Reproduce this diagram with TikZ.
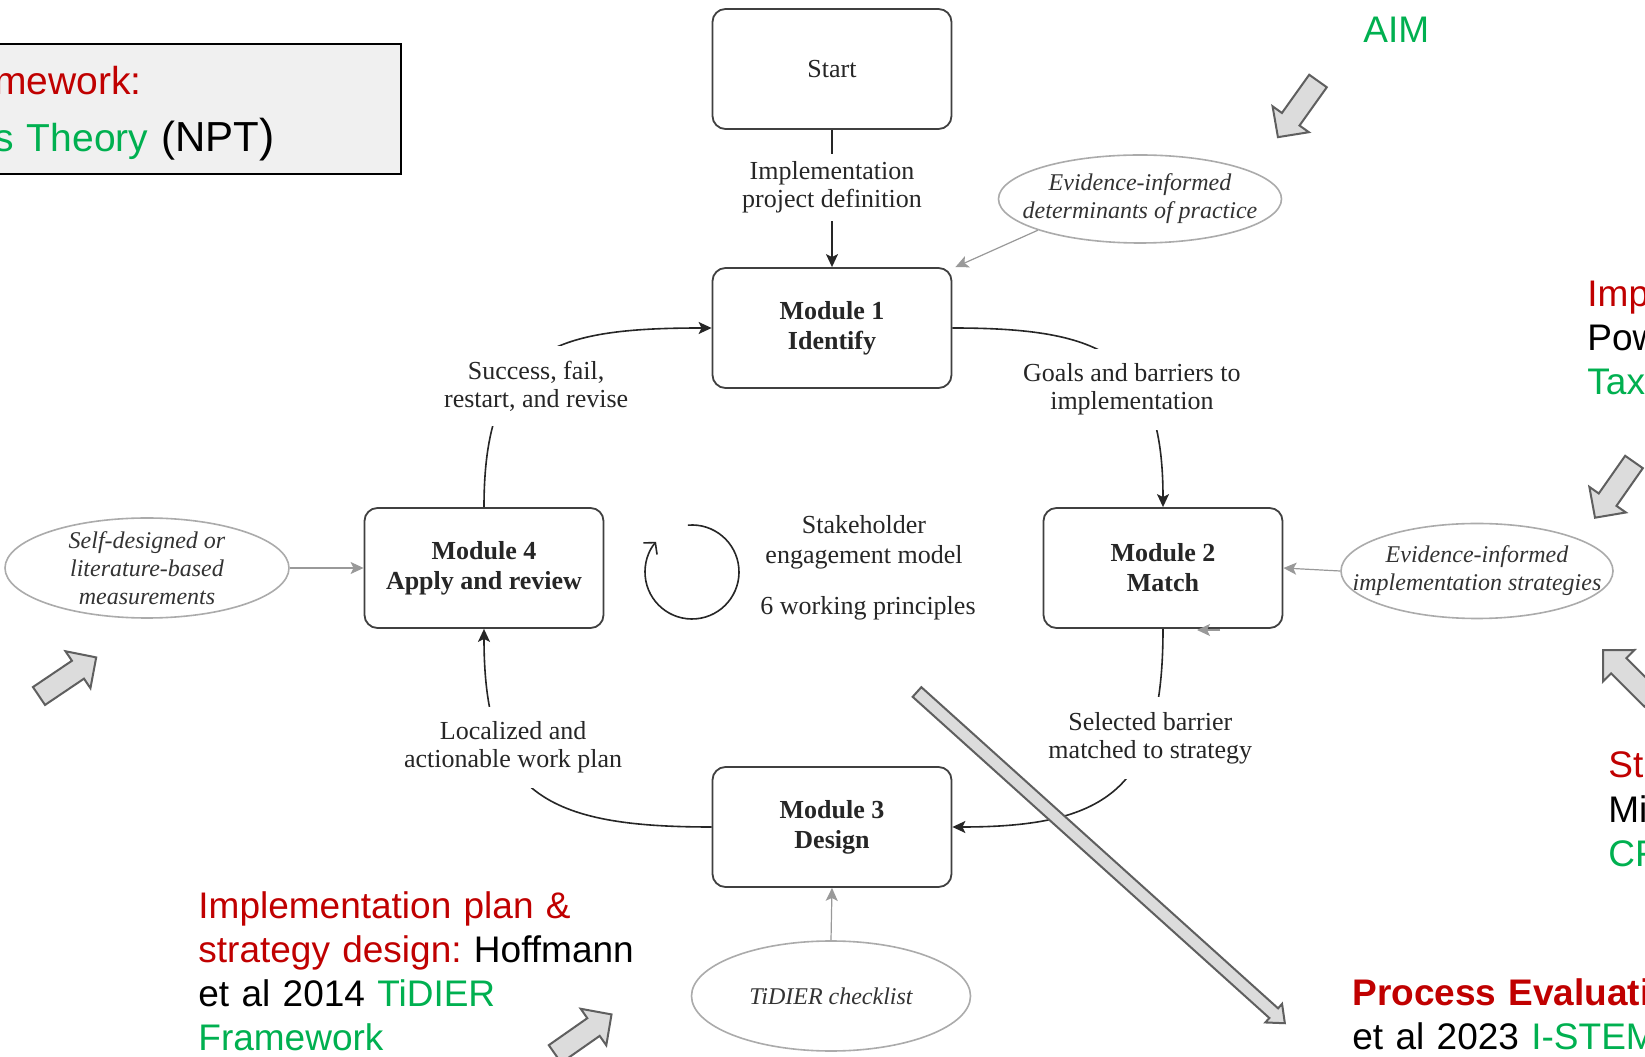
\documentclass[tikz,border=0pt]{standalone}
\usepackage{fontspec}
\setmainfont{Liberation Serif}
\newfontfamily\arialfont{Liberation Sans}
\usetikzlibrary{arrows.meta,shapes.geometric,positioning,calc}
\frenchspacing
\definecolor{annred}{HTML}{C00000}
\definecolor{anngreen}{HTML}{00B050}
\definecolor{blockfill}{HTML}{DCDCDC}
\definecolor{blockline}{HTML}{5F5F5F}
\definecolor{ovalline}{HTML}{ABABAB}
\definecolor{notefill}{HTML}{F0F0F0}
\tikzset{
	module/.style={draw=black!75, line width=.9pt, rounded corners=6.5pt, minimum width=119.5pt, minimum height=60pt, align=center, font=\fontsize{13}{15}\selectfont\bfseries, text=black!85},
	startbox/.style={module, font=\fontsize{13}{15}\selectfont},
	oval/.style={ellipse, draw=ovalline, line width=.8pt, inner sep=0pt},
	ovaltext/.style={align=center, font=\fontsize{12}{14}\selectfont\itshape, text=black!80},
	flowlabel/.style={fill=white, inner sep=7.5pt, align=center, font=\fontsize{13}{14}\selectfont, text=black!85},
	centertext/.style={align=center, font=\fontsize{13}{15}\selectfont, text=black!85},
	flow/.style={-{Stealth[length=6.5pt,width=6pt,inset=1.5pt]}, line width=.8pt, draw=black!85},
	grayflow/.style={-{Stealth[length=6.5pt,width=6pt,inset=1.5pt]}, line width=.6pt, draw=black!40},
	cyclearrow/.style={-{Straight Barb[length=4pt,width=9pt]}, line width=.8pt, draw=black!85},
	note/.style={inner sep=0pt, anchor=base west, align=left, text width=250pt, font=\arialfont\fontsize{18.5}{22}\selectfont},
	notebox/.style={draw=black, line width=1pt, fill=notefill},
	blockarrowline/.style={fill=blockfill, draw=blockline, line width=1pt, line join=miter},
	pics/blockarrow/.style n args={4}{code={
		\draw[blockarrowline] (0,-#2) -- ({#1-#4},-#2) -- ({#1-#4},-#3) -- (#1,0) -- ({#1-#4},#3) -- ({#1-#4},#2) -- (0,#2) -- cycle;
	}}
}

\begin{document}
\begin{tikzpicture}[x=0.5pt,y=0.5pt]
		\useasboundingbox (0,0) rectangle (1645,1056);
		\fill[white] (0,0) rectangle (1645,1056);
		\clip (0,0) rectangle (1645,1056);
		
		%%%modules
		\node[startbox] (start) at (832,987) {Start};
		\node[module] (m1) at (832,728) {Module 1\\Identify};
		\node[module] (m2) at (1163,488) {Module 2\\Match};
		\node[module] (m3) at (832,229) {Module 3\\Design};
		\node[module] (m4) at (484,488) {Module 4\\Apply and review};
		
		%%%inputs
		\node[oval, minimum width=141.5pt, minimum height=44pt, label={[ovaltext]center:{Evidence-informed\\determinants of practice}}] (e1) at (1140,857) {};
		\node[oval, minimum width=136pt, minimum height=47.5pt, label={[ovaltext]center:{Evidence-informed\\implementation strategies}}] (e2) at (1477,485) {};
		\node[oval, minimum width=139.5pt, minimum height=55pt, label={[ovaltext]center:{TiDIER checklist}}] (e3) at (831,60) {};
		\node[oval, minimum width=142pt, minimum height=50pt, label={[ovaltext]center:{Self-designed or\\literature-based\\measurements}}] (e4) at (147,488) {};
		
		\draw[grayflow] (e1.197) -- ([xshift=1.5pt]m1.north east);
		\draw[grayflow] (e2.west) -- (m2.east);
		\draw[grayflow] (e3.north) -- (m3.south);
		\draw[grayflow] (e4.east) -- (m4.west);
		\coordinate (gtail) at (1220,426);
		\coordinate (gtip) at (1197,426);
		\draw[grayflow] (gtail) -- (gtip);
		
		%%%cycle
		\draw[flow] (start) -- node[flowlabel,inner sep=4pt,pos=.42] (lbl0) {Implementation\\project definition} (m1);
		\draw[flow] (m1.east) to[out=0,in=90,looseness=1.4] node[flowlabel,pos=.65,xshift=-4pt] (lbl1) {Goals and barriers to\\implementation} (m2.north);
		\draw[flow] (m2.south) to[out=-90,in=0,looseness=1.4] node[flowlabel,pos=.31,xshift=2pt,yshift=3pt] (lbl2) {Selected barrier\\matched to strategy} (m3.east);
		\draw[flow] (m3.west) to[out=180,in=-90,looseness=1.4] node[flowlabel,pos=.69,xshift=5pt] (lbl3) {Localized and\\actionable work plan} (m4.south);
		\draw[flow] (m4.north) to[out=90,in=180,looseness=1.4] node[flowlabel,pos=.35,xshift=13pt] (lbl4) {Success, fail,\\restart, and revise} (m1.west);
		
		\coordinate (cyc) at (692,484);
		\draw[cyclearrow] ([shift={(95:23.5pt)}]cyc) arc[start angle=95, end angle=-220, radius=23.5pt];
		\node[centertext] (stake) at (864,514) {Stakeholder\\engagement model};
		\node[centertext] (princ) at (868,448) {6 working principles};
		
		%%%notes
		\node[notebox, minimum width=206pt, minimum height=65pt, anchor=north east] (nptbox) at (402,1013) {};
		\node[note, font=\arialfont\fontsize{19.5}{28.5}\selectfont] (npt) at (-6,961) {\textcolor{annred}{mework:}\\\textcolor{anngreen}{s Theory} {\fontsize{21}{28.5}\selectfont(NPT\fontsize{23}{28.5}\selectfont)}};
		\node[note] (aim) at (1363,1013) {\textcolor{anngreen}{AIM}};
		\node[note] (imp) at (1587,749) {\textcolor{annred}{Imp}\\Pow\\\textcolor{anngreen}{Tax}};
		\node[note] (st) at (1608,278) {\textcolor{annred}{St}\\Mi\\\textcolor{anngreen}{CF}};
		\node[note] (tidier) at (198,138) {\textcolor{annred}{Implementation plan \&}\\\textcolor{annred}{strategy design:} Hoffmann\\et al 2014 \textcolor{anngreen}{TiDIER}\\\textcolor{anngreen}{Framework}};
		\node[note] (proc) at (1352,51) {\textbf{\textcolor{annred}{Process Evaluation}}\\et al 2023 \textcolor{anngreen}{I-STEM}};
		
		%%%block arrows
		\pic[rotate=234.5] at (1318,975) {blockarrow={69}{10.8}{22.3}{22}};
		\pic[rotate=235] at (1634,594) {blockarrow={68}{10.8}{22.3}{22}};
		\pic[rotate=135] at (1652,357) {blockarrow={69}{10.8}{22.3}{22}};
		\pic[rotate=34] at (39,360) {blockarrow={69}{10.8}{22.3}{22}};
		\pic[rotate=35] at (555,2) {blockarrow={69}{10.8}{22.3}{22}};
		\pic[rotate=-42] at (917,364) {blockarrow={495}{6.5}{12.5}{15}};
	\end{tikzpicture}
\end{document}
